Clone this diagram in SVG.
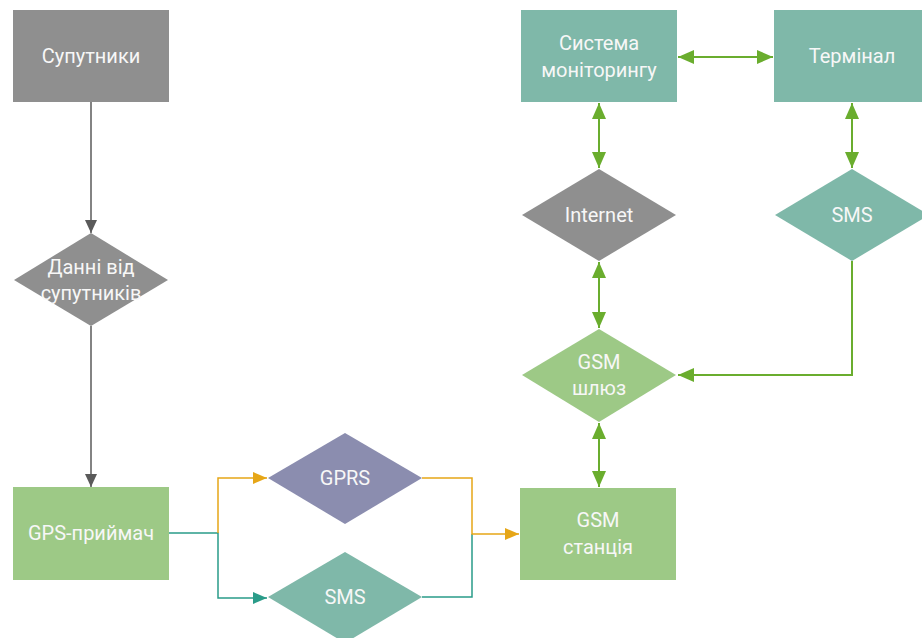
<svg xmlns="http://www.w3.org/2000/svg" width="922" height="638" viewBox="0 0 922 638">
<style>
.t{font-family:Roboto,"Liberation Sans",sans-serif;font-size:20px;fill:#f7f7f7;text-anchor:middle}
.gray{fill:#8f8f8f}.green{fill:#9dc986}.teal{fill:#7fb8a9}.purple{fill:#8b8daf}
.c{fill:none}
</style>
<defs>
<marker id="ag" markerUnits="userSpaceOnUse" markerWidth="16" markerHeight="16" refX="13" refY="6" orient="auto-start-reverse"><path d="M0,0 L13,6 L0,12 Z" fill="#5a5a5a"/></marker>
<marker id="agr" markerUnits="userSpaceOnUse" markerWidth="18" markerHeight="18" refX="16" refY="7" orient="auto-start-reverse"><path d="M0,0 L16,7 L0,14 Z" fill="#6aad2e"/></marker>
<marker id="ao" markerUnits="userSpaceOnUse" markerWidth="16" markerHeight="16" refX="14" refY="6" orient="auto-start-reverse"><path d="M0,0 L14,6 L0,12 Z" fill="#e6a617"/></marker>
<marker id="at" markerUnits="userSpaceOnUse" markerWidth="16" markerHeight="16" refX="14" refY="6" orient="auto-start-reverse"><path d="M0,0 L14,6 L0,12 Z" fill="#2a9c89"/></marker>
</defs>
<g id="connectors" class="c">
<path d="M91,102 V233" stroke="#5a5a5a" stroke-width="1.5" marker-end="url(#ag)"/>
<path d="M91,326 V487" stroke="#5a5a5a" stroke-width="1.5" marker-end="url(#ag)"/>
<path d="M169,533 H218 V598 H267" stroke="#2a9c89" stroke-width="1.5" marker-end="url(#at)"/>
<path d="M218,533 V478 H267" stroke="#e6a617" stroke-width="1.5" marker-end="url(#ao)"/>
<path d="M422,597 H472 V534" stroke="#2a9c89" stroke-width="1.5"/>
<path d="M422,478 H472 V534 H519" stroke="#e6a617" stroke-width="1.5" marker-end="url(#ao)"/>
<path d="M678,57 H773" stroke="#6aad2e" stroke-width="2" marker-start="url(#agr)" marker-end="url(#agr)"/>
<path d="M599,103 V168" stroke="#6aad2e" stroke-width="2" marker-start="url(#agr)" marker-end="url(#agr)"/>
<path d="M852,103 V168" stroke="#6aad2e" stroke-width="2" marker-start="url(#agr)" marker-end="url(#agr)"/>
<path d="M599,262 V328" stroke="#6aad2e" stroke-width="2" marker-start="url(#agr)" marker-end="url(#agr)"/>
<path d="M599,423 V487" stroke="#6aad2e" stroke-width="2" marker-start="url(#agr)" marker-end="url(#agr)"/>
<path d="M852,261 V375 H678" stroke="#6aad2e" stroke-width="2" marker-end="url(#agr)"/>
</g>
<g id="sputnyky"><rect class="gray" x="13" y="10" width="156" height="92"/><text class="t" x="91" y="63">Супутники</text></g>
<g id="dani"><path class="gray" d="M91,233 L168,280 L91,326 L14,280 Z"/><text class="t" x="91" y="274">Данні від</text><text class="t" x="91" y="300">супутників</text></g>
<g id="gps"><rect class="green" x="13" y="487" width="156" height="93"/><text class="t" x="91" y="540">GPS-приймач</text></g>
<g id="gprs"><path class="purple" d="M345,433 L422,478 L345,524 L268,478 Z"/><text class="t" x="345" y="485">GPRS</text></g>
<g id="sms1"><path class="teal" d="M345,552 L422,597 L345,643 L268,597 Z"/><text class="t" x="345" y="604">SMS</text></g>
<g id="gsm-station"><rect class="green" x="520" y="488" width="156" height="92"/><text class="t" x="598" y="527">GSM</text><text class="t" x="598" y="554">станція</text></g>
<g id="monitoring"><rect class="teal" x="521" y="10" width="156" height="92"/><text class="t" x="599" y="50">Система</text><text class="t" x="599" y="77">моніторингу</text></g>
<g id="terminal"><rect class="teal" x="774" y="10" width="156" height="92"/><text class="t" x="852" y="63">Термінал</text></g>
<g id="internet"><path class="gray" d="M599,169 L676,215 L599,261 L522,215 Z"/><text class="t" x="599" y="222">Internet</text></g>
<g id="sms2"><path class="teal" d="M852,169 L929,215 L852,261 L775,215 Z"/><text class="t" x="852" y="222">SMS</text></g>
<g id="gsm-gateway"><path class="green" d="M599,329 L676,375 L599,422 L522,375 Z"/><text class="t" x="599" y="369">GSM</text><text class="t" x="599" y="395">шлюз</text></g>
</svg>
